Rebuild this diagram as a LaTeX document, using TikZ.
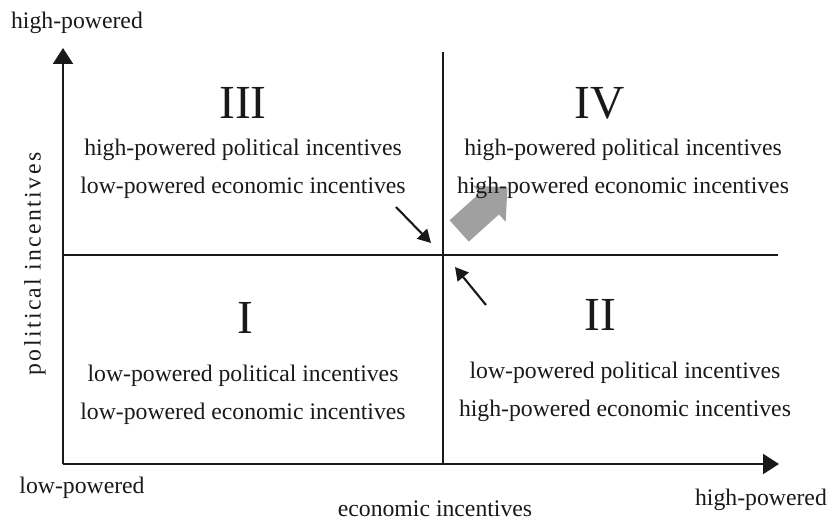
\documentclass[tikz,border=0pt]{standalone}
\usepackage{fontspec}
\setmainfont{Liberation Serif}
\usetikzlibrary{arrows.meta,shapes.arrows}
\definecolor{ink}{RGB}{25,25,25}
\definecolor{shade}{RGB}{160,160,160}
\tikzset{
  >={Triangle[length=3.2mm,width=4mm]},
  axis/.style={->,line width=1.2pt,draw=ink},
  divider/.style={line width=1.1pt,draw=ink},
  nudge/.style={-{Triangle[length=2.6mm,width=2.8mm]},line width=1.2pt,draw=ink},
  quad/.style={font=\fontsize{13.5}{21.5}\selectfont,text=ink,align=center},
  numeral/.style={font=\fontsize{27}{27}\selectfont,text=ink},
  axlabel/.style={font=\fontsize{13.5}{15}\selectfont,text=ink},
  bigarrow/.style={single arrow,fill=shade,draw=none,inner sep=0.28cm,
    single arrow head extend=0.2cm,minimum height=1.3cm},
}
\begin{document}
\begin{tikzpicture}[x=0.02cm,y=-0.02cm]
  \useasboundingbox (0,0) rectangle (833,521);
  % axes and dividers
  \coordinate (origin) at (63,464);
  \coordinate (ytip) at (63,48);
  \coordinate (xtip) at (779,464);
  \coordinate (vtop) at (443,52);
  \coordinate (vbot) at (443,464);
  \coordinate (hleft) at (63,255);
  \coordinate (hright) at (778,255);
  \draw[axis] (origin) -- (ytip);
  \draw[axis] (origin) -- (xtip);
  \draw[divider] (vtop) -- (vbot);
  \draw[divider] (hleft) -- (hright);
  % axis labels
  \node[axlabel] (ytop) at (77,23) {high-powered};
  \node[axlabel,rotate=90] (ylab) at (35,264)
    {\addfontfeature{LetterSpace=10}political incentives};
  \node[axlabel] (xlow) at (82,488) {low-powered};
  \node[axlabel] (xlab) at (435,509) {economic incentives};
  \node[axlabel] (xhigh) at (761,500) {high-powered};
  % moves between quadrants
  \node[bigarrow,rotate=42] (move) at (478,214) {};
  \coordinate (a1) at (396,207);
  \coordinate (a1tip) at (431,243);
  \coordinate (a2) at (486,305);
  \coordinate (a2tip) at (455,267);
  \draw[nudge] (a1) -- (a1tip);
  \draw[nudge] (a2) -- (a2tip);
  % quadrants
  \node[numeral] (q3) at (243,103) {III};
  \node[quad] (t3) at (243,169) {high-powered political incentives\\low-powered economic incentives};
  \node[numeral] (q4) at (600,103) {IV};
  \node[quad] (t4) at (623,169) {high-powered political incentives\\high-powered economic incentives};
  \node[numeral] (q1) at (245,318) {I};
  \node[quad] (t1) at (243,395) {low-powered political incentives\\low-powered economic incentives};
  \node[numeral] (q2) at (600,315) {II};
  \node[quad] (t2) at (625,392) {low-powered political incentives\\high-powered economic incentives};
\end{tikzpicture}
\end{document}
